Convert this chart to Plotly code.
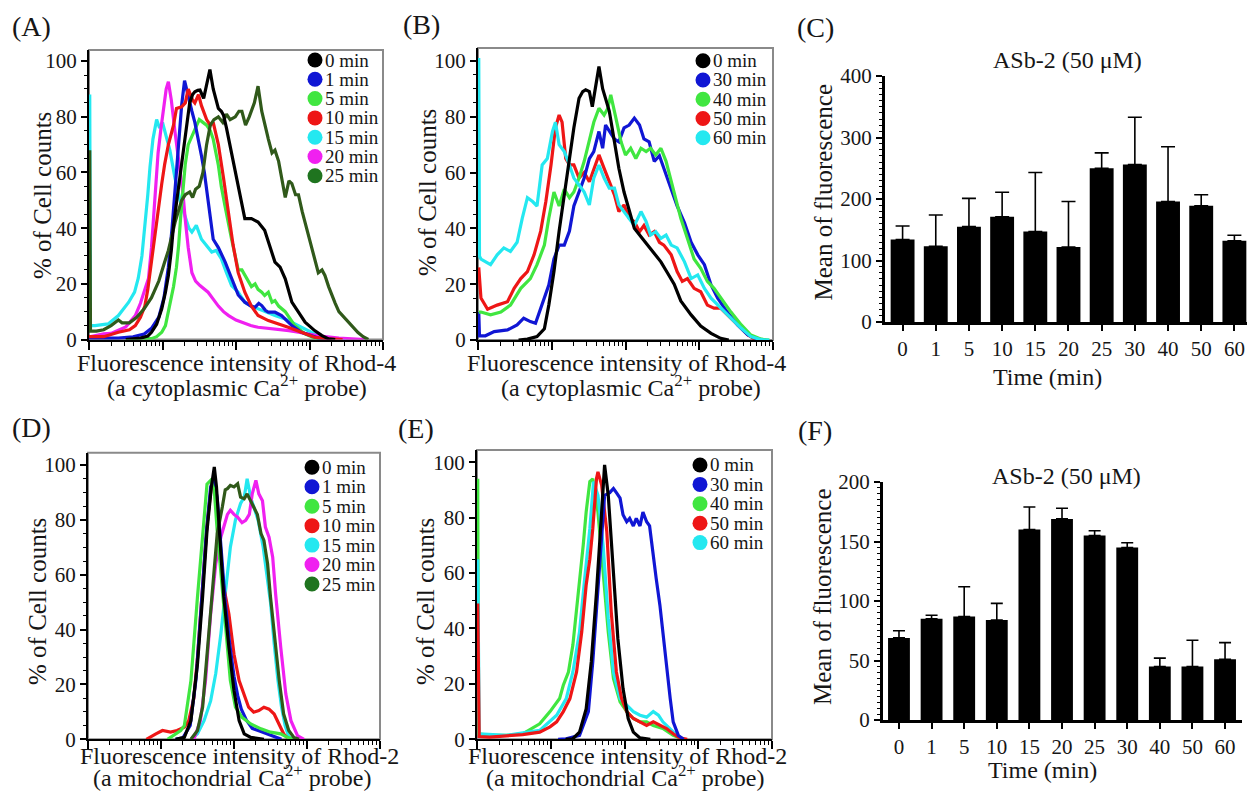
import plotly.graph_objects as go

# the page body has an 8 px margin, so the figure is sized to fit the 1255x802 window inside it;
# every position below is given in screen pixels of the reference picture
PAD = 8
W, H = 1255 - 2 * PAD, 802 - 2 * PAD
FONT = "Liberation Serif, Times New Roman, Times, serif"
INK = "#161616"

BLACK = "#000000"
BLUE = "#1016d4"
GREEN = "#40e640"
RED = "#ee1616"
CYAN = "#24e8f0"
MAGENTA = "#f020f0"
DKGREEN = "#30591a"
DKGREEN_KEY = "#1f741f"

# histogram curves: (log10 fluorescence intensity, % of cell counts)
# --- (A) Rhod-4, cytoplasmic Ca2+
A_0 = [(0.5, 0), (0.6, 0.2), (0.7, 0.5), (0.8, 1.2), (0.85, 2.6), (0.92, 5.5), (0.99, 11), (1.04, 17),
       (1.08, 23), (1.12, 32), (1.15, 41), (1.19, 49), (1.22, 55), (1.26, 63), (1.31, 71), (1.34, 79),
       (1.37, 85), (1.41, 88), (1.44, 89), (1.48, 89.5), (1.51, 89.6), (1.56, 86.6), (1.6, 92), (1.645, 97),
       (1.69, 90), (1.73, 86), (1.76, 83), (1.8, 82), (1.83, 80.6), (1.87, 76), (1.9, 72), (1.96, 65),
       (2.03, 55), (2.08, 48), (2.12, 43.4), (2.21, 43.4), (2.3, 42.2), (2.39, 39.2), (2.46, 33.8),
       (2.53, 27.8), (2.6, 26), (2.67, 21.8), (2.76, 13.4), (2.85, 9.8), (2.94, 6.2), (3.07, 3.2),
       (3.17, 1.4), (3.26, 0.2), (3.35, 0)]
A_1 = [(0.0, 0.5), (0.4, 0.5), (0.6, 1), (0.75, 2), (0.85, 4), (0.95, 8), (1.02, 15), (1.08, 26), (1.13, 40),
       (1.18, 58), (1.22, 72), (1.26, 84), (1.3, 93), (1.35, 87), (1.4, 82), (1.44, 78), (1.49, 72),
       (1.53, 66), (1.57, 60), (1.6, 54), (1.65, 43), (1.69, 36), (1.76, 33), (1.85, 28), (1.94, 22),
       (2.03, 16), (2.12, 13.4), (2.2, 12), (2.26, 11.6), (2.31, 13), (2.35, 12.2), (2.4, 10.5), (2.44, 9.8),
       (2.53, 9.8), (2.62, 8.6), (2.7, 6.5), (2.76, 5), (2.89, 2.6), (3.0, 1.5), (3.12, 0.5), (3.3, 0)]
A_5 = [(0.5, 0), (0.85, 0.3), (0.92, 1), (0.99, 2.6), (1.04, 5), (1.08, 10), (1.12, 14), (1.15, 19),
       (1.19, 26), (1.22, 34), (1.25, 45), (1.28, 55), (1.31, 63), (1.35, 70), (1.4, 73), (1.46, 77),
       (1.5, 79), (1.55, 78), (1.6, 77), (1.65, 75), (1.69, 72), (1.76, 62.6), (1.8, 55), (1.85, 48),
       (1.9, 41), (1.94, 36), (1.99, 30), (2.03, 25), (2.08, 25), (2.12, 23), (2.17, 21), (2.21, 19),
       (2.26, 20), (2.3, 18), (2.35, 17), (2.39, 15.8), (2.44, 17), (2.49, 13.4), (2.53, 14), (2.58, 12),
       (2.67, 10), (2.8, 5), (2.94, 2), (3.07, 0.5), (3.2, 0)]
A_10 = [(0.0, 1), (0.2, 1), (0.4, 2.6), (0.55, 3.5), (0.63, 5), (0.7, 8), (0.76, 12), (0.8, 18), (0.85, 28),
        (0.9, 38), (0.94, 48), (0.99, 56), (1.03, 63), (1.08, 70), (1.12, 74), (1.15, 77), (1.19, 83),
        (1.26, 83.6), (1.31, 85), (1.35, 90), (1.41, 86), (1.44, 85), (1.49, 88), (1.53, 84), (1.6, 79),
        (1.65, 77), (1.69, 78), (1.76, 70), (1.83, 58), (1.9, 46), (1.96, 34), (2.03, 24), (2.12, 17),
        (2.21, 12), (2.3, 8.6), (2.44, 6.8), (2.58, 5.6), (2.71, 4.4), (2.89, 2.6), (3.07, 0.8),
        (3.26, 0.2), (3.45, 0)]
A_15 = [(0.01, 88), (0.02, 5), (0.08, 5), (0.26, 5.6), (0.4, 8.6), (0.54, 13.4), (0.62, 17), (0.67, 22),
        (0.72, 30), (0.76, 40), (0.8, 52), (0.83, 62), (0.87, 72), (0.92, 79), (0.96, 76), (1.0, 78),
        (1.04, 74), (1.1, 68), (1.17, 58), (1.24, 50), (1.31, 44), (1.36, 40), (1.4, 38.6), (1.46, 41),
        (1.53, 36), (1.6, 33.8), (1.67, 31.4), (1.73, 32), (1.8, 29), (1.87, 24), (1.94, 19.4), (2.03, 17),
        (2.12, 13.4), (2.21, 12), (2.3, 11), (2.4, 10), (2.53, 8.6), (2.67, 7.4), (2.8, 5.6), (2.94, 3.8),
        (3.07, 2), (3.2, 0.8), (3.35, 0.2), (3.5, 0)]
A_20 = [(0.01, 1), (0.08, 1.4), (0.2, 2), (0.3, 2.2), (0.4, 3.2), (0.5, 4.5), (0.63, 8.6), (0.7, 13),
        (0.76, 18), (0.81, 22), (0.85, 33), (0.88, 45), (0.91, 58), (0.94, 67), (0.98, 76), (1.01, 82),
        (1.05, 90), (1.08, 92.6), (1.12, 86), (1.17, 74.6), (1.21, 66), (1.24, 60), (1.28, 52), (1.31, 43),
        (1.35, 33), (1.4, 24), (1.45, 21), (1.51, 19.4), (1.57, 18), (1.62, 17), (1.69, 14.5), (1.76, 12),
        (1.83, 10), (1.9, 8.6), (2.0, 7), (2.08, 6.2), (2.2, 5), (2.3, 4.4), (2.45, 4), (2.58, 3.8),
        (2.72, 3.2), (2.85, 2.6), (3.0, 1.8), (3.15, 1.2), (3.4, 0.5), (3.6, 0.2), (3.75, 0)]
A_25 = [(0.01, 68), (0.02, 3), (0.1, 3), (0.2, 3.5), (0.3, 5), (0.4, 7), (0.45, 6), (0.55, 6), (0.65, 8),
        (0.75, 11), (0.85, 15), (0.95, 21), (1.02, 27), (1.08, 32), (1.17, 42), (1.26, 50), (1.31, 52),
        (1.37, 53), (1.41, 51), (1.45, 54), (1.5, 55), (1.55, 60), (1.6, 70), (1.65, 77), (1.7, 79),
        (1.76, 80), (1.82, 78), (1.87, 81), (1.92, 79), (1.99, 80), (2.04, 82), (2.08, 82), (2.13, 77),
        (2.18, 80), (2.25, 85), (2.3, 91), (2.35, 82), (2.39, 77), (2.44, 72), (2.49, 67), (2.53, 68),
        (2.58, 64), (2.63, 56), (2.67, 51), (2.72, 57), (2.76, 56), (2.81, 52), (2.85, 52), (2.9, 46),
        (2.94, 42), (2.98, 38), (3.03, 34), (3.08, 28), (3.12, 24), (3.17, 25), (3.21, 23), (3.26, 19),
        (3.3, 16), (3.35, 13), (3.4, 10), (3.47, 8), (3.53, 6), (3.6, 4), (3.66, 2.5), (3.73, 1), (3.8, 0)]

# --- (B) Rhod-4, later time points
B_0 = [(0.55, 0), (0.67, 0.3), (0.8, 1.2), (0.9, 4), (0.96, 12.5), (1.03, 24.5), (1.1, 39), (1.17, 52),
       (1.24, 66), (1.3, 76), (1.37, 86.6), (1.42, 89), (1.46, 89.6), (1.51, 89), (1.55, 83.6), (1.6, 92.6),
       (1.64, 98), (1.69, 90), (1.73, 86.6), (1.78, 82), (1.85, 71), (1.91, 61.5), (1.98, 53), (2.05, 46),
       (2.12, 40), (2.21, 37), (2.3, 34), (2.39, 31), (2.48, 28), (2.57, 24), (2.66, 20), (2.75, 14),
       (2.89, 9), (3.02, 5), (3.16, 2.4), (3.29, 0.6), (3.4, 0)]
B_30 = [(0.01, 10), (0.02, 1.5), (0.1, 1.5), (0.22, 3), (0.4, 3.6), (0.53, 5.4), (0.62, 7.8), (0.71, 6.6),
        (0.78, 6), (0.87, 12.5), (0.96, 19.7), (1.03, 29), (1.1, 34), (1.17, 34), (1.24, 39), (1.3, 48),
        (1.37, 53), (1.44, 58), (1.51, 65), (1.57, 67.5), (1.64, 74.7), (1.69, 68.7), (1.73, 77),
        (1.78, 74.7), (1.85, 72), (1.91, 71), (1.98, 76), (2.05, 77), (2.12, 79.5), (2.19, 77), (2.25, 72),
        (2.32, 71), (2.39, 64), (2.46, 66), (2.52, 61.5), (2.62, 54), (2.7, 48), (2.8, 42), (2.89, 35),
        (2.98, 30.5), (3.07, 27), (3.16, 19.7), (3.25, 15), (3.38, 10), (3.52, 5.4), (3.66, 1.8),
        (3.79, 0.3), (3.9, 0)]
B_40 = [(0.01, 10), (0.04, 10), (0.17, 9), (0.31, 10), (0.44, 12.5), (0.58, 18.5), (0.71, 22), (0.8, 27),
        (0.9, 34), (0.96, 43.6), (1.03, 53), (1.1, 48), (1.17, 54), (1.24, 51), (1.3, 53), (1.37, 58),
        (1.44, 64), (1.51, 72), (1.57, 78), (1.64, 83), (1.71, 80.6), (1.76, 83), (1.8, 87.8), (1.87, 79.5),
        (1.94, 71), (2.0, 66.3), (2.07, 68.7), (2.14, 65), (2.21, 68.7), (2.28, 67.5), (2.34, 68.7),
        (2.41, 66.3), (2.48, 68.7), (2.55, 64), (2.62, 56.7), (2.68, 51), (2.75, 43.6), (2.84, 36.4),
        (2.93, 29), (3.02, 25.7), (3.11, 21), (3.2, 18.5), (3.29, 15), (3.43, 10), (3.57, 5.4), (3.7, 1.8),
        (3.84, 0.3), (3.95, 0)]
B_50 = [(0.01, 26), (0.04, 15), (0.13, 11), (0.26, 12.5), (0.4, 13.7), (0.49, 18.5), (0.58, 22),
        (0.67, 24.5), (0.76, 30.5), (0.85, 39), (0.92, 49.6), (0.99, 62.7), (1.05, 76), (1.1, 80.6),
        (1.14, 78), (1.19, 65), (1.24, 62.7), (1.3, 62.7), (1.37, 58), (1.44, 60), (1.51, 56.7),
        (1.57, 61.5), (1.64, 66.3), (1.71, 61.5), (1.78, 56.7), (1.85, 52), (1.91, 46), (1.98, 48.4),
        (2.05, 43.6), (2.12, 42.4), (2.19, 38.8), (2.25, 41), (2.32, 37.6), (2.39, 38.8), (2.46, 35),
        (2.52, 34), (2.62, 30.5), (2.7, 24.5), (2.77, 21), (2.84, 22), (2.93, 18.5), (3.02, 17.3),
        (3.11, 12.5), (3.2, 11.4), (3.29, 11.4), (3.38, 9), (3.52, 5.4), (3.66, 1.8), (3.77, 0)]
B_60 = [(0.01, 101), (0.02, 30), (0.04, 29), (0.17, 27), (0.26, 30.5), (0.35, 33), (0.44, 31.7), (0.53, 35),
        (0.6, 43.6), (0.67, 51), (0.74, 49.6), (0.8, 48), (0.87, 62.7), (0.94, 65), (1.01, 74.7), (1.05, 78),
        (1.1, 70), (1.17, 67.5), (1.24, 62.7), (1.3, 58), (1.37, 55.5), (1.44, 53), (1.51, 48.4), (1.57, 58),
        (1.64, 62.7), (1.71, 58), (1.78, 54.4), (1.85, 54.4), (1.91, 48.4), (1.98, 46), (2.05, 43.6),
        (2.12, 41), (2.21, 46), (2.28, 42.4), (2.34, 37.6), (2.41, 38.8), (2.48, 36.4), (2.55, 37.6),
        (2.62, 34), (2.7, 33), (2.8, 28), (2.89, 22), (2.98, 23.3), (3.07, 18.5), (3.16, 15), (3.29, 11.4),
        (3.43, 7.8), (3.57, 4.2), (3.7, 1.2), (3.84, 0.1), (3.95, 0)]

# --- (D) Rhod-2, mitochondrial Ca2+
D_0 = [(1.2, 0), (1.32, 0.7), (1.41, 6.8), (1.5, 27.5), (1.57, 52), (1.63, 76), (1.69, 92), (1.73, 99.3),
       (1.76, 92), (1.82, 70), (1.86, 52), (1.93, 33.6), (2.0, 17.8), (2.07, 6.8), (2.14, 2), (2.23, 0.7),
       (2.41, 0)]
D_1 = [(1.2, 0), (1.3, 0.5), (1.4, 5), (1.48, 22), (1.55, 48), (1.62, 75), (1.68, 92), (1.72, 95), (1.77, 88),
       (1.83, 68), (1.88, 50), (1.94, 35), (2.0, 23), (2.05, 16), (2.1, 11), (2.17, 7), (2.25, 4), (2.35, 3),
       (2.45, 2), (2.55, 1), (2.65, 0)]
D_5 = [(1.09, 0), (1.27, 3.2), (1.32, 5), (1.41, 21.4), (1.5, 52), (1.57, 76), (1.63, 93), (1.68, 94.4),
       (1.73, 90.8), (1.77, 76), (1.82, 61.5), (1.89, 38.4), (1.95, 21.4), (2.02, 11.7), (2.11, 8),
       (2.23, 5.6), (2.37, 3.8), (2.5, 2.6), (2.64, 2), (2.73, 0.7), (2.82, 0)]
D_10 = [(0.8, 0), (0.84, 0.7), (0.93, 2), (1.02, 3.2), (1.13, 2.6), (1.22, 3.2), (1.32, 4.4), (1.38, 6.8),
        (1.45, 15), (1.5, 30), (1.57, 55), (1.63, 78), (1.7, 95), (1.75, 90), (1.8, 72), (1.86, 55.5),
        (1.93, 45.7), (2.0, 31), (2.07, 21.4), (2.14, 16.5), (2.2, 11.7), (2.27, 9.9), (2.34, 10.5),
        (2.41, 11.7), (2.48, 11), (2.55, 9.2), (2.62, 5.6), (2.68, 2), (2.75, 0)]
D_15 = [(1.41, 0), (1.5, 2), (1.59, 6.8), (1.68, 14), (1.75, 24), (1.82, 38.4), (1.89, 55.5), (1.95, 70),
        (2.02, 80), (2.09, 86), (2.14, 88.3), (2.18, 95), (2.23, 88), (2.27, 84.7), (2.33, 80), (2.4, 70),
        (2.45, 60), (2.5, 50), (2.55, 35), (2.6, 22), (2.65, 12), (2.7, 5), (2.75, 1), (2.8, 0)]
D_20 = [(1.45, 0), (1.54, 6.8), (1.61, 21.4), (1.68, 45.7), (1.75, 64), (1.82, 73.7), (1.86, 77.4),
        (1.91, 82), (1.95, 83.5), (2.0, 82), (2.05, 81), (2.11, 79), (2.16, 79.8), (2.21, 82), (2.25, 89.5),
        (2.3, 94.4), (2.34, 89.5), (2.39, 87), (2.43, 77.4), (2.48, 73.7), (2.53, 66.4), (2.57, 53),
        (2.64, 33.6), (2.71, 16.5), (2.78, 6.8), (2.87, 1.3), (2.96, 0)]
D_25 = [(1.41, 0), (1.5, 3.2), (1.57, 11.7), (1.63, 31), (1.7, 55.5), (1.77, 75), (1.84, 84.7), (1.88, 91),
        (1.91, 91.4), (1.95, 92.6), (2.0, 92), (2.05, 93.2), (2.09, 88.3), (2.14, 87.7), (2.18, 89.5),
        (2.23, 86.5), (2.27, 84.7), (2.32, 82), (2.37, 75), (2.41, 72.5), (2.46, 64), (2.5, 51.8),
        (2.55, 38.4), (2.62, 21.4), (2.68, 9.2), (2.75, 3.2), (2.82, 0.7), (2.89, 0)]

# --- (E) Rhod-2, later time points
E_0 = [(1.2, 0), (1.3, 0.2), (1.39, 2.6), (1.48, 11), (1.55, 28), (1.62, 53), (1.69, 82), (1.73, 99),
       (1.78, 88), (1.85, 61.6), (1.91, 36.3), (1.98, 18.3), (2.05, 7.5), (2.12, 2.6), (2.21, 0.5), (2.35, 0)]
E_30 = [(1.1, 0), (1.21, 0.2), (1.39, 1.4), (1.51, 10), (1.57, 28), (1.64, 55.6), (1.69, 76), (1.73, 88),
        (1.8, 89), (1.85, 90.5), (1.89, 89), (1.94, 87), (1.98, 81), (2.03, 78.5), (2.07, 79.7), (2.12, 77),
        (2.16, 79.7), (2.21, 77), (2.25, 82), (2.3, 78.5), (2.34, 77), (2.39, 65), (2.43, 58), (2.48, 48.4),
        (2.52, 37.5), (2.57, 26.7), (2.62, 14.7), (2.66, 6.3), (2.73, 1.4), (2.8, 0)]
E_40 = [(0.01, 94), (0.02, 2), (0.17, 1.4), (0.4, 1.4), (0.62, 2), (0.85, 5.6), (0.99, 10), (1.05, 12),
        (1.12, 14.7), (1.17, 19.5), (1.24, 24.3), (1.3, 34), (1.35, 46), (1.39, 58), (1.44, 70), (1.48, 82),
        (1.53, 93), (1.57, 94), (1.64, 82), (1.71, 60.4), (1.78, 38.7), (1.85, 22), (1.94, 13.5), (2.03, 10),
        (2.12, 7.5), (2.21, 6.3), (2.3, 6.3), (2.39, 5), (2.52, 3.9), (2.66, 1.4), (2.8, 0)]
E_50 = [(0.01, 49), (0.03, 1), (0.17, 0.8), (0.4, 1.2), (0.62, 1.7), (0.85, 2.6), (0.99, 4.5), (1.08, 6.3),
        (1.17, 10), (1.26, 14.7), (1.35, 24.3), (1.42, 38.7), (1.48, 55.6), (1.53, 65), (1.57, 76), (1.62, 94),
        (1.64, 96.5), (1.69, 91.7), (1.76, 75), (1.82, 46), (1.89, 24.3), (1.96, 14.7), (2.03, 10),
        (2.12, 7.5), (2.21, 6.3), (2.3, 5), (2.39, 6.3), (2.48, 5), (2.57, 3.9), (2.66, 2), (2.75, 0.5),
        (2.85, 0)]
E_60 = [(0.01, 65), (0.03, 2), (0.4, 1.4), (0.85, 3.2), (1.08, 8.7), (1.21, 14.7), (1.3, 24.3), (1.39, 38.7),
        (1.46, 58), (1.53, 76), (1.58, 93), (1.64, 88), (1.71, 70), (1.78, 43.6), (1.85, 24.3), (1.94, 14.7),
        (2.03, 12.3), (2.12, 10), (2.21, 8.7), (2.3, 8), (2.39, 10), (2.46, 8.7), (2.52, 6.3), (2.62, 3.9),
        (2.71, 1.4), (2.8, 0)]

# bar charts (C) Rhod-4 and (F) Rhod-2 : mean + SEM (upper bar only)
TIMES = ["0", "1", "5", "10", "15", "20", "25", "30", "40", "50", "60"]
C_MEAN = [134, 123, 155, 171, 147, 122, 250, 256, 196, 189, 132]
C_SEM = [22, 51, 46, 40, 96, 74, 25, 77, 89, 18, 9]
F_MEAN = [69, 85, 87, 84, 160, 169, 155, 145, 45, 45, 51]
F_SEM = [6, 3, 25, 14, 19, 9, 4, 4, 7, 22, 14]


def xp(px):
    return (px - PAD) / W


def yp(py):
    return 1 - (py - PAD) / H


fig = go.Figure()
annotations = []
shapes = []

MINOR_X = [m * 10 ** d for d in range(4) for m in range(2, 10)]


def text(x, y, s, size, angle=0, anchor="center"):
    annotations.append(dict(x=xp(x), y=yp(y), xref="paper", yref="paper", text=s, showarrow=False,
                            textangle=angle, xanchor=anchor, yanchor="middle",
                            font=dict(family=FONT, size=size, color=INK)))


def hist_panel(n, box, ytop, series, order, key, ytitle_at, xtitle, probe, xt_at):
    xa = "x" if n == 1 else f"x{n}"
    ya = "y" if n == 1 else f"y{n}"
    left, right, top, bottom = box
    for label in order:
        pts, color, _ = series[label]
        lx, pct = zip(*pts)
        fig.add_trace(go.Scatter(x=[10 ** v for v in lx], y=list(pct), mode="lines",
                                 line=dict(color=color, width=3.2), xaxis=xa, yaxis=ya,
                                 showlegend=False, hoverinfo="skip"))
    fig.layout[xa.replace("x", "xaxis")] = dict(
        domain=[xp(left), xp(right)], anchor=ya, type="log", range=[0, 4], automargin=False,
        showline=True, linecolor="black", linewidth=2, ticks="outside", ticklen=8, tickwidth=1.5,
        tickcolor="black", tickmode="array", tickvals=[1, 10, 100, 1000, 10000], showticklabels=False,
        showgrid=False, zeroline=False,
        minor=dict(tickmode="array", tickvals=MINOR_X, ticks="outside", ticklen=4, tickwidth=1,
                   tickcolor="black", showgrid=False))
    fig.layout[ya.replace("y", "yaxis")] = dict(
        domain=[yp(bottom), yp(top)], anchor=xa, range=[0, ytop], automargin=False,
        showline=True, linecolor="black", linewidth=2, ticks="outside", ticklen=6, tickwidth=1.5,
        tickcolor="black", tickmode="array", tickvals=[0, 20, 40, 60, 80, 100],
        tickfont=dict(family=FONT, size=21, color=INK), showgrid=False, zeroline=False,
        minor=dict(tickmode="linear", tick0=0, dtick=5, ticks="outside", ticklen=3, tickwidth=1,
                   tickcolor="black", showgrid=False))
    shapes.append(dict(type="rect", xref=f"{xa} domain", yref=f"{ya} domain", x0=0, x1=1, y0=0, y1=1,
                       line=dict(color="#8a8a8a", width=2), layer="below"))
    # key: filled circle + label for every time point
    cx, cy0, step = key
    for i, label in enumerate(series):
        cy = cy0 + i * step
        key_color = series[label][2]
        shapes.append(dict(type="circle", xref="paper", yref="paper",
                           x0=xp(cx - 7.5), x1=xp(cx + 7.5), y0=yp(cy + 7.5), y1=yp(cy - 7.5),
                           fillcolor=key_color, line=dict(width=0)))
        text(cx + 7.5, cy, label, 19, anchor="left")
    text(ytitle_at[0], ytitle_at[1], "% of Cell counts", 25, angle=-90)
    text(xt_at[0], xt_at[1], xtitle, 24)
    text(xt_at[2], xt_at[3], probe, 24)


SER_A = {"0 min": (A_0, BLACK, BLACK), "1 min": (A_1, BLUE, BLUE), "5 min": (A_5, GREEN, GREEN),
         "10 min": (A_10, RED, RED), "15 min": (A_15, CYAN, CYAN), "20 min": (A_20, MAGENTA, MAGENTA),
         "25 min": (A_25, DKGREEN, DKGREEN_KEY)}
SER_B = {"0 min": (B_0, BLACK, BLACK), "30 min": (B_30, BLUE, BLUE), "40 min": (B_40, GREEN, GREEN),
         "50 min": (B_50, RED, RED), "60 min": (B_60, CYAN, CYAN)}
SER_D = {"0 min": (D_0, BLACK, BLACK), "1 min": (D_1, BLUE, BLUE), "5 min": (D_5, GREEN, GREEN),
         "10 min": (D_10, RED, RED), "15 min": (D_15, CYAN, CYAN), "20 min": (D_20, MAGENTA, MAGENTA),
         "25 min": (D_25, DKGREEN, DKGREEN_KEY)}
SER_E = {"0 min": (E_0, BLACK, BLACK), "30 min": (E_30, BLUE, BLUE), "40 min": (E_40, GREEN, GREEN),
         "50 min": (E_50, RED, RED), "60 min": (E_60, CYAN, CYAN)}

CYTO = "(a cytoplasmic Ca<sup>2+</sup> probe)"
MITO = "(a mitochondrial Ca<sup>2+</sup> probe)"

hist_panel(1, (89, 383, 50, 339.5), 104, SER_A,
           ["15 min", "20 min", "5 min", "1 min", "10 min", "25 min", "0 min"],
           (315, 60, 19.3), (42, 196), "Fluorescence intensity of Rhod-4", CYTO, (236, 363, 237, 386))
hist_panel(2, (478, 773, 48, 340), 104.6, SER_B,
           ["50 min", "30 min", "40 min", "60 min", "0 min"],
           (703, 60.7, 19.25), (427, 192), "Fluorescence intensity of Rhod-4", CYTO, (626, 363, 631, 386))
hist_panel(4, (88, 380, 452.7, 739.3), 104.5, SER_D,
           ["15 min", "20 min", "10 min", "1 min", "5 min", "25 min", "0 min"],
           (312, 467.3, 19.45), (37, 602), "Fluorescence intensity of Rhod-2", MITO, (239, 756, 232, 776))
hist_panel(5, (477, 772, 450, 739.3), 104.4, SER_E,
           ["40 min", "60 min", "50 min", "30 min", "0 min"],
           (700, 465, 19.4), (425, 602), "Fluorescence intensity of Rhod-2", MITO, (627, 756, 625, 776))


def bar_panel(n, box, mean, sem, yr, ytick, minor, xr, width, cap, title_at, ytitle_at, xtitle_at):
    xa, ya = f"x{n}", f"y{n}"
    left, right, top, bottom = box
    fig.add_trace(go.Bar(x=TIMES, y=mean, width=width, marker=dict(color="black", line=dict(width=0)),
                         error_y=dict(type="data", symmetric=False, array=sem, arrayminus=[0] * len(sem),
                                      color="black", thickness=1.6, width=cap),
                         xaxis=xa, yaxis=ya, showlegend=False, hoverinfo="skip"))
    fig.layout[f"xaxis{n}"] = dict(
        domain=[xp(left), xp(right)], anchor=ya, type="category", range=xr, automargin=False,
        showline=True, linecolor="black", linewidth=2.5, ticks="outside", ticklen=6, tickwidth=2,
        tickcolor="black", tickfont=dict(family=FONT, size=21, color=INK), showgrid=False, zeroline=False)
    fig.layout[f"yaxis{n}"] = dict(
        domain=[yp(bottom), yp(top)], anchor=xa, range=yr, tickmode="linear", tick0=0, dtick=ytick,
        automargin=False,
        showline=True, linecolor="black", linewidth=3, ticks="outside", ticklen=6, tickwidth=2,
        tickcolor="black", tickfont=dict(family=FONT, size=21, color=INK), showgrid=False, zeroline=False,
        minor=dict(tickmode="linear", tick0=0, dtick=minor, ticks="outside", ticklen=3, tickwidth=1,
                   tickcolor="black", showgrid=False))
    text(title_at[0], title_at[1], "ASb-2 (50 μM)", 24)
    text(ytitle_at[0], ytitle_at[1], "Mean of fluorescence", 25, angle=-90)
    text(xtitle_at[0], xtitle_at[1], "Time (min)", 24)


bar_panel(3, (885, 1247, 76, 322), C_MEAN, C_SEM, [0, 400], 100, 10, [-0.53, 10.38], 0.72, 7,
          (1067, 60), (823, 192.5), (1047, 377))
bar_panel(6, (883, 1242, 482, 720), F_MEAN, F_SEM, [0, 200], 50, 5, [-0.49, 10.52], 0.67, 6,
          (1066, 476), (822, 597), (1042, 770))

for lab, x, y in [("(A)", 31, 26), ("(B)", 421, 25), ("(C)", 815, 27),
                  ("(D)", 31, 427), ("(E)", 416, 428), ("(F)", 815, 431)]:
    text(x, y, lab, 28)

fig.update_layout(width=W, height=H, margin=dict(l=0, r=0, t=0, b=0, autoexpand=False),
                  paper_bgcolor="white", plot_bgcolor="white", showlegend=False,
                  font=dict(family=FONT, color=INK), annotations=annotations, shapes=shapes)

fig.write_html("out.html")
